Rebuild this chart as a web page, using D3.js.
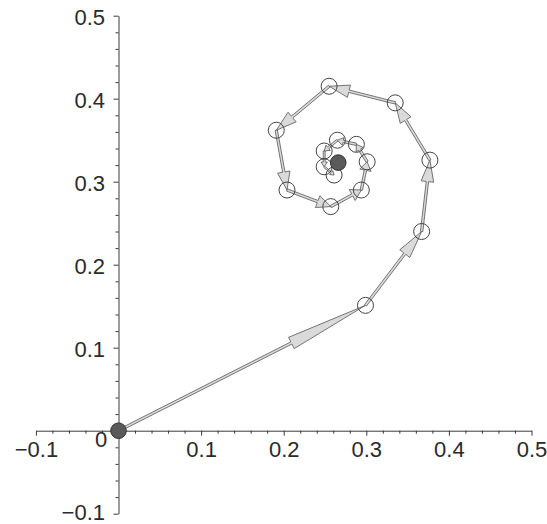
<!DOCTYPE html>
<html>
<head>
<meta charset="utf-8">
<script src="https://cdn.jsdelivr.net/npm/d3@7/dist/d3.min.js"></script>
<style>
  html, body { margin: 0; padding: 0; background: #fff; }
  svg { display: block; }
  text { font-family: "Liberation Sans", Arial, Helvetica, sans-serif; }
</style>
</head>
<body>
<svg id="chart" width="547" height="524"></svg>
<script>
// Iterates of the map, starting at the origin and spiralling in to the fixed point
const iterX = [0, 0.299, 0.367, 0.377, 0.335, 0.255, 0.191, 0.204, 0.257, 0.294, 0.301, 0.288, 0.265, 0.249, 0.249, 0.261];
const iterY = [0, 0.151, 0.240, 0.326, 0.395, 0.415, 0.362, 0.290, 0.270, 0.290, 0.324, 0.345, 0.350, 0.337, 0.318, 0.308];
const fixedX = 0.266;
const fixedY = 0.323;

// Axis ticks
const xTicks = [-0.1, 0.1, 0.2, 0.3, 0.4, 0.5];
const yTicks = [-0.1, 0.1, 0.2, 0.3, 0.4, 0.5];
const minorStep = 0.02;

const svg = d3.select("#chart");

const x = d3.scaleLinear().domain([-0.1, 0.5]).range([35.9, 531.5]);
const y = d3.scaleLinear().domain([-0.1, 0.5]).range([513.7, 15.7]);

const fmt = v => (v < 0 ? "\u2212" : "") + Math.abs(v).toFixed(1);
const minorTicks = d3.range(-0.1, 0.5001, minorStep)
  .map(v => +v.toFixed(2))
  .filter(v => Math.abs(v) > 1e-9 && !xTicks.some(t => Math.abs(t - v) < 1e-9));

const axisColor = "#3a3a3a";
const labelColor = "#2a2a2a";
const labelSize = "22px";

// x axis
const gx = svg.append("g").attr("transform", `translate(0,${y(0)})`);
gx.call(d3.axisBottom(x).tickValues(xTicks).tickSize(5).tickSizeOuter(0).tickPadding(6).tickFormat(fmt));
gx.append("g").call(d3.axisBottom(x).tickValues(minorTicks).tickSize(3).tickSizeOuter(0).tickFormat(""))
  .select(".domain").remove();

// y axis
const gy = svg.append("g").attr("transform", `translate(${x(0)},0)`);
gy.call(d3.axisLeft(y).tickValues(yTicks).tickSize(5).tickSizeOuter(0).tickPadding(8.5).tickFormat(fmt));
gy.append("g").call(d3.axisLeft(y).tickValues(minorTicks).tickSize(3).tickSizeOuter(0).tickFormat(""))
  .select(".domain").remove();
gy.selectAll(".tick text").attr("dy", d => d < 0 ? "0.25em" : "0.38em");

svg.selectAll(".domain, .tick line").attr("stroke", axisColor).attr("stroke-width", 1);
svg.selectAll(".tick text").attr("fill", labelColor).style("font-size", labelSize)
  .style("font-family", "'Liberation Sans', Arial, Helvetica, sans-serif");

// shared origin label
svg.append("text")
  .attr("x", x(0) - 17.5).attr("y", y(0) + 16.5)
  .attr("text-anchor", "middle")
  .attr("fill", labelColor).style("font-size", labelSize)
  .text("0");

// Arrow polygon from p to q: thin shaft plus a long tapering head
function arrowPath(p, q) {
  const dx = q[0] - p[0], dy = q[1] - p[1];
  const L = Math.hypot(dx, dy);
  const ux = dx / L, uy = dy / L;
  const nx = -uy, ny = ux;
  const head = 0.3 * L;
  const hw = Math.min(6.3, 0.2 * L);
  const sw = Math.min(1.2, 0.06 * L);
  const bx = q[0] - ux * head, by = q[1] - uy * head;
  const pts = [
    [p[0] + nx * sw, p[1] + ny * sw],
    [bx + nx * sw, by + ny * sw],
    [bx + nx * hw, by + ny * hw],
    [q[0], q[1]],
    [bx - nx * hw, by - ny * hw],
    [bx - nx * sw, by - ny * sw],
    [p[0] - nx * sw, p[1] - ny * sw]
  ];
  return "M" + pts.map(d => d.join(",")).join("L") + "Z";
}

const pts = iterX.map((v, i) => [x(v), y(iterY[i])]);
const segs = d3.pairs(pts);

svg.append("g").selectAll("path")
  .data(segs)
  .join("path")
  .attr("d", d => arrowPath(d[0], d[1]))
  .attr("fill", "#dadada")
  .attr("stroke", "#555")
  .attr("stroke-width", 0.8)
  .attr("stroke-linejoin", "round");

// open circles on the iterates
svg.append("g").selectAll("circle")
  .data(pts.slice(1))
  .join("circle")
  .attr("cx", d => d[0]).attr("cy", d => d[1])
  .attr("r", 8)
  .attr("fill", "none")
  .attr("stroke", "#444")
  .attr("stroke-width", 1);

// start point and fixed point
svg.append("g").selectAll("circle")
  .data([pts[0], [x(fixedX), y(fixedY)]])
  .join("circle")
  .attr("cx", d => d[0]).attr("cy", d => d[1])
  .attr("r", 7.8)
  .attr("fill", "#5a5a5a")
  .attr("stroke", "#333")
  .attr("stroke-width", 1);
</script>
</body>
</html>
